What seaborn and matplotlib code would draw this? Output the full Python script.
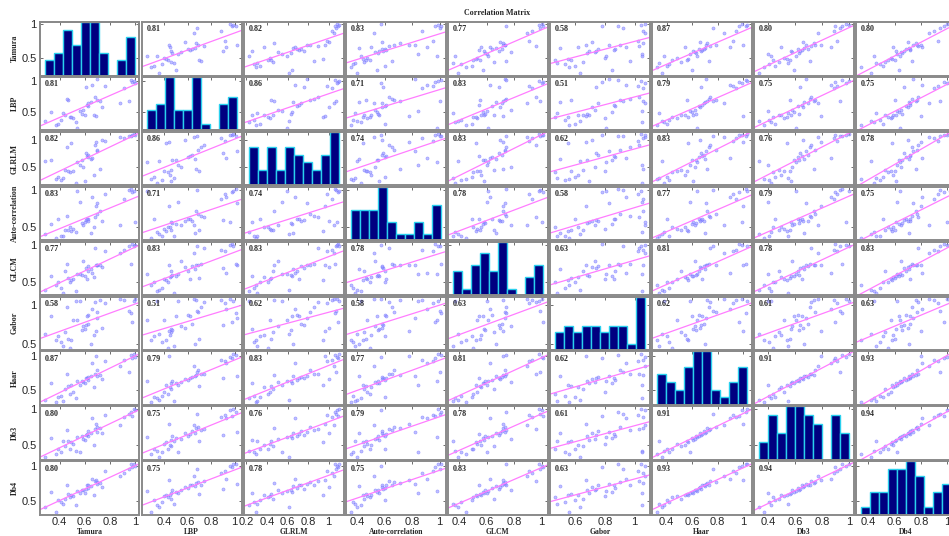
import numpy as np
import pandas as pd
import matplotlib
matplotlib.use('Agg')
import matplotlib.pyplot as plt
from matplotlib.ticker import MultipleLocator, FuncFormatter
import seaborn as sns

names = ['Tamura', 'LBP', 'GLRLM', 'Auto-correlation', 'GLCM', 'Gabor', 'Haar', 'Db3', 'Db4']

tamura = [0.37, 0.28, 0.43, 0.53, 0.41, 0.39, 0.48, 0.44, 0.51, 0.67, 0.49, 0.47,
          0.56, 0.60, 0.33, 0.59, 0.54, 0.58, 0.63, 0.61, 0.74, 0.62, 0.65, 0.63,
          0.70, 0.46, 0.72, 0.68, 0.70, 0.69, 0.88, 0.66, 0.91, 0.76,
          0.98, 0.95, 1.00, 0.97, 0.99]
lbp = [0.29, 0.36, 0.48, 0.34, 0.38, 0.31, 0.43, 0.46, 0.40, 0.45, 0.42, 0.70,
       0.52, 0.46, 0.50, 0.54, 0.25, 0.47, 0.60, 0.90, 0.58, 0.62, 0.66, 0.64,
       1.02, 0.71, 0.67, 0.74, 0.69, 0.44, 0.65, 0.93, 0.88, 0.92,
       0.98, 0.68, 0.96, 1.01, 0.99]
glrlm = [0.29, 0.61, 0.30, 0.22, 0.27, 0.33, 0.41, 0.46, 0.43, 0.37, 0.94, 0.44,
         0.55, 0.25, 0.64, 0.51, 0.59, 0.63, 0.69, 0.76, 1.00, 0.71, 0.65, 0.73,
         0.79, 0.86, 0.47, 0.90, 0.82, 0.96, 1.05, 0.67, 1.03, 0.98,
         1.09, 1.07, 1.08, 1.06, 1.10]
autocorr = [0.35, 0.40, 0.38, 0.43, 0.37, 0.60, 0.49, 0.45, 0.47, 0.50, 0.44, 0.46,
            0.84, 0.56, 0.54, 0.53, 0.98, 0.55, 0.60, 0.59, 0.58, 0.61, 0.41, 0.58,
            0.82, 0.65, 0.71, 0.63, 0.67, 0.78, 0.52, 0.91, 0.87, 0.95,
            0.97, 1.00, 0.57, 1.01, 0.99]
glcm = [0.45, 0.39, 0.35, 0.37, 0.41, 0.49, 0.50, 0.65, 0.53, 0.56, 0.52, 0.55,
        0.60, 0.58, 0.57, 0.78, 0.61, 0.59, 0.64, 0.69, 0.70, 0.54, 0.67, 0.71,
        0.73, 0.74, 0.72, 0.96, 0.73, 0.72, 0.89, 0.62, 0.93, 0.91,
        1.01, 0.99, 1.00, 0.74, 0.98]
gabor = [0.56, 0.63, 0.48, 1.05, 0.53, 0.60, 0.46, 0.65, 0.80, 0.62, 0.55, 0.57,
         1.05, 0.69, 0.85, 0.73, 0.81, 0.68, 0.87, 0.74, 0.71, 0.86, 0.50, 0.75,
         0.83, 0.97, 1.06, 1.03, 0.90, 0.67, 1.07, 0.94, 1.06, 1.02,
         0.78, 0.92, 1.07, 0.89, 1.04]
haar = [0.32, 0.36, 0.34, 0.38, 0.42, 0.40, 0.44, 0.51, 0.48, 0.54, 0.57, 0.56,
        0.58, 0.61, 0.60, 0.62, 0.64, 0.63, 0.65, 0.67, 0.66, 0.68, 0.70, 0.69,
        0.71, 0.73, 0.72, 0.74, 0.79, 1.00, 0.85, 0.90, 0.94, 0.92,
        0.97, 0.76, 0.99, 1.02, 1.03]
db3 = [0.37, 0.33, 0.55, 0.42, 0.41, 0.45, 0.44, 0.48, 0.52, 0.50, 0.54, 0.56,
       0.40, 0.57, 0.59, 0.58, 0.61, 0.63, 0.62, 0.64, 0.66, 0.65, 0.67, 0.70,
       0.68, 0.71, 0.74, 0.72, 0.75, 0.79, 0.77, 0.87, 0.89, 0.91,
       0.90, 0.93, 0.98, 0.95, 1.00]
db4 = [0.34, 0.42, 0.46, 0.44, 0.49, 0.51, 0.55, 0.53, 0.57, 0.59, 0.58, 0.60,
       0.62, 0.61, 0.63, 0.65, 0.64, 0.66, 0.69, 0.67, 0.70, 0.72, 0.71, 0.72,
       0.74, 0.73, 0.76, 0.78, 0.77, 0.80, 0.86, 0.81, 0.90, 0.93,
       0.98, 0.95, 1.00, 1.03, 1.02]

# correlation coefficients as printed in the panels
corr_vals = [
    [1.00, 0.81, 0.82, 0.83, 0.77, 0.58, 0.87, 0.80, 0.80],
    [0.81, 1.00, 0.86, 0.71, 0.83, 0.51, 0.79, 0.75, 0.75],
    [0.82, 0.86, 1.00, 0.74, 0.83, 0.62, 0.83, 0.76, 0.78],
    [0.83, 0.71, 0.74, 1.00, 0.78, 0.58, 0.77, 0.79, 0.75],
    [0.77, 0.83, 0.83, 0.78, 1.00, 0.63, 0.81, 0.78, 0.83],
    [0.58, 0.51, 0.62, 0.58, 0.63, 1.00, 0.62, 0.61, 0.63],
    [0.87, 0.79, 0.83, 0.77, 0.81, 0.62, 1.00, 0.91, 0.93],
    [0.80, 0.75, 0.76, 0.79, 0.78, 0.61, 0.91, 1.00, 0.94],
    [0.80, 0.75, 0.78, 0.75, 0.83, 0.63, 0.93, 0.94, 1.00],
]

df = pd.DataFrame(dict(zip(names, [tamura, lbp, glrlm, autocorr, glcm,
                                   gabor, haar, db3, db4])))

sns.set_style('white')
plt.rcParams['font.family'] = ['Liberation Sans', 'DejaVu Sans']
serif = ['Liberation Serif', 'DejaVu Serif']

W, H = 949.0, 536.0
fig = plt.figure(figsize=(W / 100, H / 100), dpi=100)
fig.patch.set_facecolor('white')

n = len(names)
x0, y0 = 40.0, 22.0
dx, dy = 102.0, 54.9
aw, ah = 99.5, 53.5
frame = '#8a8a8a'

lims = {}
for c in names:
    lo, hi = df[c].min(), df[c].max()
    pad = 0.05 * (hi - lo)
    lims[c] = (lo - pad, hi + pad)

fmt = FuncFormatter(lambda v, p: '%g' % round(v, 2))

for i, yname in enumerate(names):
    for j, xname in enumerate(names):
        ax = fig.add_axes([(x0 + j * dx) / W, 1 - (y0 + i * dy + ah) / H, aw / W, ah / H])
        ax.set_xlim(lims[xname])
        ax.set_ylim(lims[yname])
        if i == j:
            tw = ax.twinx()
            sns.histplot(x=df[xname], bins=10, ax=tw, color='#000080',
                         edgecolor='#2ad0ee', linewidth=1.0, alpha=1)
            cnt = np.histogram(df[xname], bins=10)[0]
            tw.set_ylim(0, cnt.max())
            tw.set_ylabel('')
            tw.set_yticks([])
            tw.tick_params(right=False, labelright=False)
            for s in tw.spines.values():
                s.set_color(frame)
                s.set_linewidth(1.4)
        else:
            sns.regplot(x=df[xname].values, y=df[yname].values, ax=ax, ci=None,
                        truncate=False,
                        scatter_kws={'s': 5, 'facecolor': (0.6, 0.6, 1.0),
                                     'edgecolor': (0.4, 0.4, 1.0),
                                     'linewidths': 0.4, 'alpha': 0.6},
                        line_kws={'color': '#ff7dff', 'linewidth': 0.9})
            ax.text(0.05, 0.86, '%.2f' % corr_vals[i][j], transform=ax.transAxes,
                    ha='left', va='center', fontsize=5.8, fontweight='bold',
                    family=serif)
        ax.set_xlim(lims[xname])
        ax.set_ylim(lims[yname])
        ax.set_xlabel('')
        ax.set_ylabel('')
        ax.xaxis.set_major_locator(MultipleLocator(0.2))
        ax.yaxis.set_major_locator(MultipleLocator(0.5))
        ax.xaxis.set_major_formatter(fmt)
        ax.yaxis.set_major_formatter(fmt)
        ax.tick_params(direction='in', top=True, right=True, length=2.5,
                       width=0.6, color='#555555', labelsize=8, pad=1.5,
                       labelleft=(j == 0), labelbottom=(i == n - 1))
        ax.tick_params(axis='y', pad=2.5)
        for s in ax.spines.values():
            s.set_color(frame)
            s.set_linewidth(1.4)

# variable names on the left and along the bottom
for k, name in enumerate(names):
    yc = 1 - (y0 + k * dy + ah / 2) / H
    fig.text(15 / W, yc, name, rotation=90, ha='center', va='center',
             fontsize=5.8, fontweight='bold', family=serif)
    xc = (x0 + k * dx + aw / 2) / W
    fig.text(xc, 0.0, name, ha='center', va='bottom',
             fontsize=5.5, fontweight='bold', family=serif)

fig.text(497.5 / W, 1 - 13.3 / H, 'Correlation Matrix', ha='center', va='center',
         fontsize=5.8, fontweight='bold', family=serif)

fig.savefig('out.png', dpi=100)
